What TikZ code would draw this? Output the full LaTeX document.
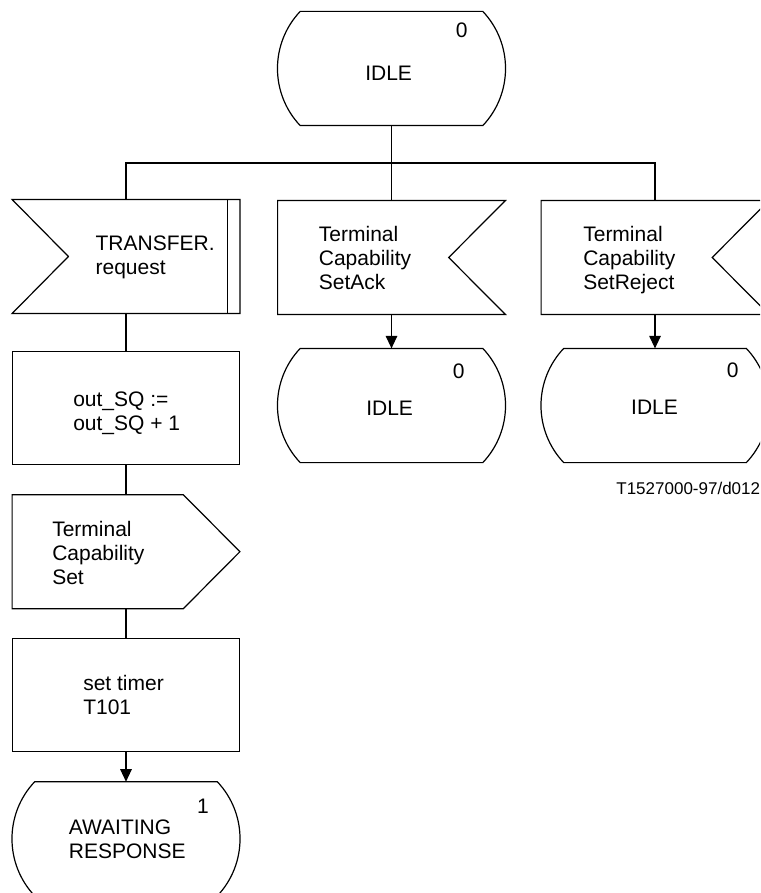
\documentclass[tikz,border=0pt]{standalone}
\usepackage{fontspec}
\setmainfont{Liberation Sans}
\usetikzlibrary{calc,arrows.meta}
\def\statesym#1{\draw (#1.north west) -- (#1.north east)
  .. controls ($(#1.north east)+(30.3,32)$) and ($(#1.south east)+(30.3,-32)$) .. (#1.south east)
  -- (#1.south west)
  .. controls ($(#1.south west)+(-30.3,-32)$) and ($(#1.north west)+(-30.3,32)$) .. (#1.north west) -- cycle;}
\tikzset{
  sym/.style={minimum width=226.6pt, minimum height=112.8pt, inner sep=0pt},
  st/.style={minimum width=181.4pt, minimum height=113pt, inner sep=0pt},
  task/.style={sym, draw},
  txt/.style={font=\fontsize{21}{24}\selectfont, inner sep=0pt, anchor=base west, align=left},
  arr/.style={-{Triangle[length=12.5pt,width=11.5pt]}}
}

\begin{document}
\begin{tikzpicture}[x=1pt, y=-1pt, line width=1.2pt]
		%%%%% START %%%%%
		\useasboundingbox (0,0) rectangle (760,893);
		\clip (0,0) rectangle (760,893);
		
		\node[st] (idleTop) at (391.5,68.5) {};
		\statesym{idleTop}
		\node[txt] (nTop) at (455.2,37.5) {0};
		\node[txt] (sTop) at (364.7,80.5) {IDLE};
		
		\coordinate (branch) at (391.5,163);
		\node[sym] (trReq) at (126,256.5) {};
		\node[sym] (tcsAck) at (391.5,257.5) {};
		\node[sym] (tcsRej) at (655,257.5) {};
		\draw (idleTop.south) -- (tcsAck.north);
		\draw (trReq.north) |- (branch) -| (tcsRej.north);
		
		\draw (trReq.north west) -- (trReq.north east) -- (trReq.south east) -- (trReq.south west) -- ($(trReq.west)+(56.3,0)$) -- cycle;
		\draw ($(trReq.north east)+(-12.6,0)$) -- ($(trReq.south east)+(-12.6,0)$);
		% base = last line
		\node[txt] (tTr) at (95,274.5) {TRANSFER.\\request};
		
		\draw (tcsAck.north west) -- (tcsAck.north east) -- ($(tcsAck.east)+(-56.7,0)$) -- (tcsAck.south east) -- (tcsAck.south west) -- cycle;
		\node[txt] (tAck) at (318.3,289.3) {Terminal\\Capability\\SetAck};
		
		\draw (tcsRej.north west) -- (tcsRej.north east) -- ($(tcsRej.east)+(-56.7,0)$) -- (tcsRej.south east) -- (tcsRej.south west) -- cycle;
		\node[txt] (tRej) at (582.7,289.3) {Terminal\\Capability\\SetReject};
		
		\node[st] (idleAck) at (391.5,405.5) {};
		\statesym{idleAck}
		\node[txt] (nAck) at (452.2,378.5) {0};
		\node[txt] (sAck) at (365.7,415.5) {IDLE};
		\draw[arr] (tcsAck.south) -- (idleAck.north);
		
		\node[st] (idleRej) at (655,405.5) {};
		\statesym{idleRej}
		\node[txt] (nRej) at (726.2,377) {0};
		\node[txt] (sRej) at (630.6,414.5) {IDLE};
		\draw[arr] (tcsRej.south) -- (idleRej.north);
		
		\node[font=\fontsize{17}{20}\selectfont, inner sep=0pt, anchor=base west] (fig) at (615.8,494) {T1527000-97/d012};
		
		\node[task] (incSQ) at (126,408) {};
		\node[txt] (tSQ) at (72.7,430.3) {out\_SQ :=\\out\_SQ + 1};
		\draw (trReq.south) -- (incSQ.north);
		
		\node[sym] (tcsOut) at (126,551.7) {};
		\draw (tcsOut.north west) -- ($(tcsOut.north east)+(-56.6,0)$) -- (tcsOut.east) -- ($(tcsOut.south east)+(-56.6,0)$) -- (tcsOut.south west) -- cycle;
		\node[txt] (tOut) at (51.7,584.3) {Terminal\\Capability\\Set};
		\draw (incSQ.south) -- (tcsOut.north);
		
		\node[task] (setT) at (126,694.7) {};
		\node[txt] (tT) at (82.7,714.5) {set timer\\T101};
		\draw (tcsOut.south) -- (setT.north);
		
		\node[st] (await) at (126,838.8) {};
		\statesym{await}
		\node[txt] (nAw) at (196.5,813) {1};
		\node[txt] (sAw) at (68.3,858.5) {AWAITING\\RESPONSE};
		\draw[arr] (setT.south) -- (await.north);
		%%%%% END %%%%%
\end{tikzpicture}
\end{document}
